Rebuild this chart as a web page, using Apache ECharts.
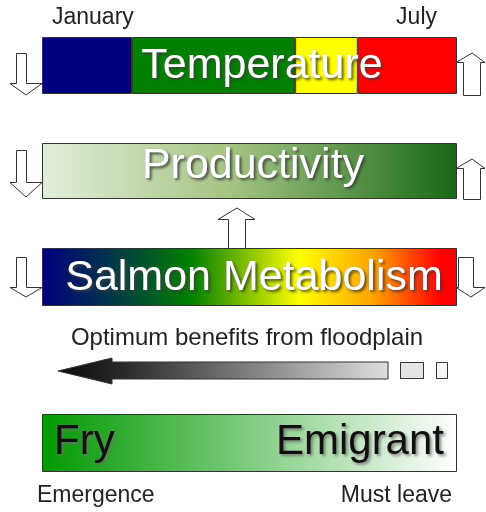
<!DOCTYPE html>
<html>
<head>
<meta charset="utf-8">
<script src="https://cdn.jsdelivr.net/npm/echarts@6/dist/echarts.min.js"></script>
<style>
  html, body { margin: 0; padding: 0; background: #fff; }
  #chart { width: 486px; height: 512px; }
</style>
</head>
<body>
<div id="chart"></div>
<script>
// rows of the diagram
var rowNames = ['Temperature', 'Productivity', 'Salmon Metabolism', 'Fry'];
// temperature bands from January to July (share of the span)
var tempBands = [0.217, 0.393, 0.151, 0.239];
var tempColors = ['#000080', '#008000', '#ffff00', '#ff0000'];
var monthLabels = ['January', 'July'];
var stageLabels = ['Fry', 'Emigrant'];
var timingLabels = ['Emergence', 'Must leave'];
var benefitText = 'Optimum benefits from floodplain';
var fullSpan = [1];

var FONT = 'Liberation Sans';
var chart = echarts.init(document.getElementById('chart'));

// bar boxes (one grid per row)
var rows = [
  { top: 37, height: 57 },
  { top: 143, height: 56 },
  { top: 248, height: 58 },
  { top: 414, height: 58 }
];

function grad(stops) {
  return new echarts.graphic.LinearGradient(0, 0, 1, 0,
    stops.map(function (s) { return { offset: s[0], color: s[1] }; }));
}

var grids = [], xAxes = [], yAxes = [];
rows.forEach(function (r, i) {
  grids.push({ left: 42, width: 415, top: r.top, height: r.height });
  xAxes.push({ type: 'value', min: 0, max: 1, show: false, gridIndex: i });
  yAxes.push({ type: 'category', data: [rowNames[i]], show: false, gridIndex: i });
});

var border = { borderColor: '#333', borderWidth: 1 };
var series = [];
tempBands.forEach(function (v, i) {
  series.push({
    type: 'bar', stack: 'temp', xAxisIndex: 0, yAxisIndex: 0,
    barWidth: '100%', data: [v], silent: true,
    itemStyle: Object.assign({ color: tempColors[i] }, border)
  });
});
series.push({
  type: 'bar', xAxisIndex: 1, yAxisIndex: 1, barWidth: '100%', data: fullSpan, silent: true,
  itemStyle: Object.assign({ color: grad([[0, '#e2eedb'], [0.45, '#a6c483'], [1, '#176817']]) }, border)
});
series.push({
  type: 'bar', xAxisIndex: 2, yAxisIndex: 2, barWidth: '100%', data: fullSpan, silent: true,
  itemStyle: Object.assign({ color: grad([[0, '#000080'], [0.15, '#01304f'], [0.36, '#008000'],
    [0.62, '#ffff00'], [0.8, '#ffa200'], [0.96, '#ff0000'], [1, '#ff0000']]) }, border)
});
series.push({
  type: 'bar', xAxisIndex: 3, yAxisIndex: 3, barWidth: '100%', data: fullSpan, silent: true,
  itemStyle: Object.assign({ color: grad([[0, '#009900'], [1, '#ffffff']]) }, border)
});

// hollow arrows
function arrow(sx1, sx2, base, hy, hx1, hx2, tx, ty) {
  return { type: 'polygon', z: -1, shape: { points: [[sx1, base], [sx2, base], [sx2, hy], [hx2, hy], [tx, ty], [hx1, hy], [sx1, hy]] },
    style: { fill: '#fff', stroke: '#333', lineWidth: 1 } };
}
function label(text, x, y, size, align, color, shadow) {
  var st = { text: text, fill: color, fontFamily: FONT, fontSize: size, align: align, verticalAlign: 'middle' };
  if (shadow) {
    st.textShadowColor = shadow; st.textShadowBlur = 3;
    st.textShadowOffsetX = 2; st.textShadowOffsetY = 2;
  }
  return { type: 'text', x: x, y: y, z: 10, style: st };
}

var graphics = [
  arrow(16.5, 26.5, 53.5, 83.5, 10, 42, 26, 95),
  arrow(463.5, 480.5, 95.5, 62.5, 456, 485, 472, 53),
  arrow(16.5, 26.5, 150.5, 182.5, 10, 42, 26, 197),
  arrow(463.5, 480.5, 199.5, 168.5, 456, 485, 472, 159),
  arrow(228.5, 245.5, 248.5, 219.5, 218, 255, 237, 208),
  arrow(16.5, 26.5, 257.5, 287.5, 10, 42, 26, 297),
  arrow(458.5, 473.5, 257.5, 287.5, 456, 485, 471, 297),
  // benefits arrow
  { type: 'polygon', shape: { points: [[58, 371], [112, 358], [112, 362], [388, 362], [388, 379], [112, 379], [112, 384]] },
    style: { fill: new echarts.graphic.LinearGradient(0, 0, 1, 0, [{ offset: 0, color: '#0a0a0a' }, { offset: 0.2, color: '#2a2a2a' }, { offset: 1, color: '#dedede' }]),
      stroke: '#333', lineWidth: 1 } },
  { type: 'rect', shape: { x: 400.5, y: 362.5, width: 23, height: 16 }, style: { fill: '#e4e4e4', stroke: '#333', lineWidth: 1 } },
  { type: 'rect', shape: { x: 436.5, y: 362.5, width: 11, height: 16 }, style: { fill: '#f6f6f6', stroke: '#333', lineWidth: 1 } },
  // texts
  label(monthLabels[0], 52, 18, 23, 'left', '#222'),
  label(monthLabels[1], 437, 18, 23, 'right', '#222'),
  label(rowNames[0], 262, 66, 43, 'center', '#fff', 'rgba(60,60,60,0.9)'),
  label(rowNames[1], 253, 166, 43, 'center', '#fff', 'rgba(60,60,60,0.9)'),
  label(rowNames[2], 254, 278, 43, 'center', '#fff', 'rgba(60,60,60,0.9)'),
  label(benefitText, 247, 338, 24, 'center', '#222'),
  label(stageLabels[0], 54, 442, 42, 'left', '#111', 'rgba(110,110,110,0.8)'),
  label(stageLabels[1], 444, 442, 42, 'right', '#111', 'rgba(110,110,110,0.8)'),
  label(timingLabels[0], 37, 496, 23, 'left', '#222'),
  label(timingLabels[1], 452, 496, 23, 'right', '#222')
];

chart.setOption({
  animation: false,
  grid: grids,
  xAxis: xAxes,
  yAxis: yAxes,
  series: series,
  graphic: { elements: graphics }
});
</script>
</body>
</html>
